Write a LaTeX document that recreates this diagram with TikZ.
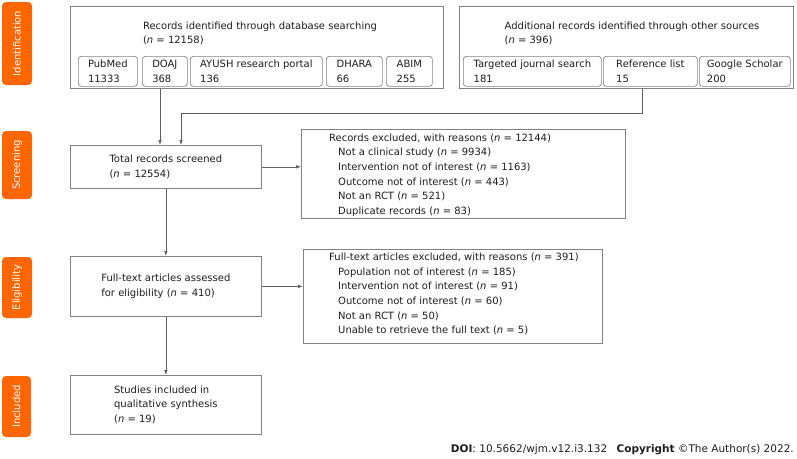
\documentclass[tikz,border=0pt]{standalone}
\usepackage{fontspec}
\setmainfont{DejaVu Sans}
\usetikzlibrary{arrows.meta}
\definecolor{orng}{RGB}{255,102,0}
\definecolor{bord}{RGB}{130,130,130}
\definecolor{lnc}{RGB}{95,95,95}
\definecolor{txc}{RGB}{30,30,30}
\begin{document}
\begin{tikzpicture}[x=1pt,y=-1pt,
  font=\fontsize{10}{14.7}\selectfont, text=txc,
  box/.style={draw=bord, line width=0.7pt, fill=white, inner sep=0pt, align=left, anchor=north west},
  subbox/.style={draw=bord, line width=0.7pt, rounded corners=3pt, inner sep=0pt, align=left, anchor=north west, minimum height=30},
  txt/.style={inner sep=0pt, align=left},
  side/.style={fill=orng, rounded corners=4pt, text=white, rotate=90, inner sep=0pt, anchor=center},
  conn/.style={draw=lnc, line width=0.7pt},
  arr/.style={conn, -{Latex[length=5pt,width=3.6pt]}}
]
\useasboundingbox[fill=white] (0,0) rectangle (797,458);

% side labels
\node[side, minimum width=83, minimum height=30] (sid) at (17,43.5) {Identification};
\node[side, minimum width=68, minimum height=30] (sscr) at (17,165) {Screening};
\node[side, minimum width=61, minimum height=30] (sel) at (17,287.5) {Eligibility};
\node[side, minimum width=61, minimum height=29] (sinc) at (16.5,406.5) {Included};

% top boxes
\node[box, minimum width=373, minimum height=82] (db) at (70,6) {};
\node[txt] (dbt) at (260,33.5) {Records identified through database searching\\(\textit{n} = 12158)};
\node[subbox, minimum width=59] (pm) at (78,56) {PubMed\\11333};
\node[subbox, minimum width=45] (doaj) at (142,56) {DOAJ\\368};
\node[subbox, minimum width=132] (ayush) at (190,56) {AYUSH research portal\\136};
\node[subbox, minimum width=56] (dhara) at (326,56) {DHARA\\66};
\node[subbox, minimum width=46] (abim) at (386,56) {ABIM\\255};

\node[box, minimum width=334, minimum height=82] (oth) at (459,6) {};
\node[txt] (otht) at (632,33.5) {Additional records identified through other sources\\(\textit{n} = 396)};
\node[subbox, minimum width=138] (tjs) at (463,56) {Targeted journal search\\181};
\node[subbox, minimum width=94] (refl) at (603,56) {Reference list\\15};
\node[subbox, minimum width=91] (gs) at (699,56) {Google Scholar\\200};

% main flow
\node[box, minimum width=191, minimum height=43] (scr) at (70,145) {Total records screened\\(\textit{n} = 12554)};
\node[box, minimum width=191, minimum height=60] (elig) at (70,256) {Full-text articles assessed\\for eligibility (\textit{n} = 410)};
\node[box, minimum width=191, minimum height=59] (inc) at (70,375) {Studies included in\\qualitative synthesis\\(\textit{n} = 19)};

% exclusion boxes
\node[box, minimum width=324, minimum height=89] (ex1) at (301,129) {};
\node[txt, anchor=west] (ex1t) at (329,175) {Records excluded, with reasons (\textit{n} = 12144)\\
\hspace*{9pt}Not a clinical study (\textit{n} = 9934)\\
\hspace*{9pt}Intervention not of interest (\textit{n} = 1163)\\
\hspace*{9pt}Outcome not of interest (\textit{n} = 443)\\
\hspace*{9pt}Not an RCT (\textit{n} = 521)\\
\hspace*{9pt}Duplicate records (\textit{n} = 83)};

\node[box, minimum width=299, minimum height=94] (ex2) at (303,249) {};
\node[txt, anchor=west] (ex2t) at (329,294) {Full-text articles excluded, with reasons (\textit{n} = 391)\\
\hspace*{9pt}Population not of interest (\textit{n} = 185)\\
\hspace*{9pt}Intervention not of interest (\textit{n} = 91)\\
\hspace*{9pt}Outcome not of interest (\textit{n} = 60)\\
\hspace*{9pt}Not an RCT (\textit{n} = 50)\\
\hspace*{9pt}Unable to retrieve the full text (\textit{n} = 5)};

% connectors
\coordinate (j1) at (160,100);
\coordinate (k1) at (642,113);
\coordinate (k2) at (181,113);
\draw[arr] (db.south -| j1) -- (scr.north -| j1);
\draw[arr] (oth.south -| k1) -- (k1) -- (k2) -- (scr.north -| k2);
\draw[arr] (scr.east) -- (ex1.west |- scr.east);
\draw[arr] (scr.south) -- (elig.north);
\draw[arr] (elig.east) -- (ex2.west |- elig.east);
\draw[arr] (elig.south) -- (inc.north);

% footer
\node[txt, anchor=base east, font=\fontsize{10.5}{12}\selectfont] (doi) at (794,452) {\textbf{DOI}: 10.5662/wjm.v12.i3.132\hspace{6pt} \textbf{Copyright} ©The Author(s) 2022.};
\end{tikzpicture}
\end{document}
